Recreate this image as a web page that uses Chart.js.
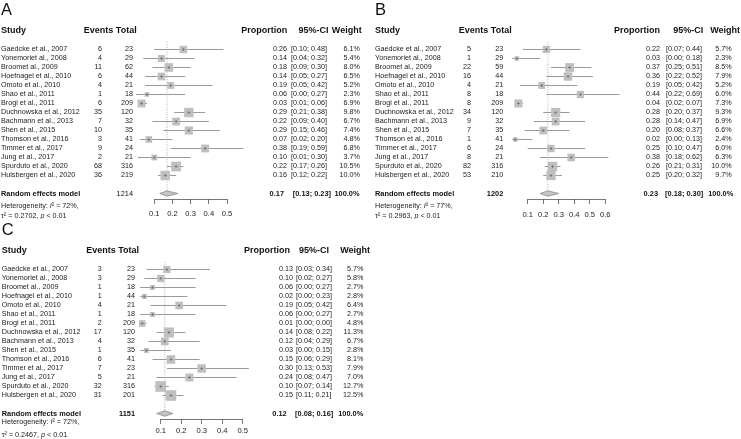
<!DOCTYPE html>
<html>
<head>
<meta charset="utf-8">
<script src="https://cdn.jsdelivr.net/npm/chart.js@4.4.1/dist/chart.umd.min.js"></script>
<style>
  html, body { margin: 0; padding: 0; background: #fff; }
  canvas { position: absolute; }
</style>
</head>
<body>
<canvas id="panelA" width="370" height="219" style="left:0;top:0"></canvas>
<canvas id="panelB" width="371" height="219" style="left:370px;top:0"></canvas>
<canvas id="panelC" width="370" height="219" style="left:0;top:220px"></canvas>
<script>
// studies (same order in all three panels)
const studies = [
  'Gaedcke et al., 2007', 'Yonemoriet al., 2008', 'Broomet al., 2009', 'Hoefnagel et al., 2010',
  'Omoto et al., 2010', 'Shao et al., 2011', 'Brogi et al., 2011', 'Duchnowska et al., 2012',
  'Bachmann et al., 2013', 'Shen et al., 2015', 'Thomson et al., 2016', 'Timmer et al., 2017',
  'Jung et al., 2017', 'Spurduto et al., 2020', 'Hulsbergen et al., 2020'
];

// panel A
const eventsA = [6, 4, 11, 6, 4, 1, 6, 35, 7, 10, 3, 9, 2, 68, 36];
const totalA  = [23, 29, 62, 44, 21, 18, 209, 120, 32, 35, 41, 24, 21, 316, 219];
const propA   = [0.26, 0.14, 0.18, 0.14, 0.19, 0.06, 0.03, 0.29, 0.22, 0.29, 0.07, 0.38, 0.10, 0.22, 0.16];
const lowerA  = [0.10, 0.04, 0.09, 0.05, 0.05, 0.00, 0.01, 0.21, 0.09, 0.15, 0.02, 0.19, 0.01, 0.17, 0.12];
const upperA  = [0.48, 0.32, 0.30, 0.27, 0.42, 0.27, 0.06, 0.38, 0.40, 0.46, 0.20, 0.59, 0.30, 0.26, 0.22];
const weightA = [6.1, 5.4, 8.0, 6.5, 5.2, 2.3, 6.9, 9.8, 6.7, 7.4, 4.8, 6.8, 3.7, 10.5, 10.0];
const pooledA = [0.17, 0.13, 0.23];
const sumTotalA = 1214;
const hetA = ['72%', '0.2702', '< 0.01'];
const ticksA = [0.1, 0.2, 0.3, 0.4, 0.5];

// panel B
const eventsB = [5, 1, 22, 16, 4, 8, 8, 34, 9, 7, 1, 6, 8, 82, 53];
const totalB  = [23, 29, 59, 44, 21, 18, 209, 120, 32, 35, 41, 24, 21, 316, 210];
const propB   = [0.22, 0.03, 0.37, 0.36, 0.19, 0.44, 0.04, 0.28, 0.28, 0.20, 0.02, 0.25, 0.38, 0.26, 0.25];
const lowerB  = [0.07, 0.00, 0.25, 0.22, 0.05, 0.22, 0.02, 0.20, 0.14, 0.08, 0.00, 0.10, 0.18, 0.21, 0.20];
const upperB  = [0.44, 0.18, 0.51, 0.52, 0.42, 0.69, 0.07, 0.37, 0.47, 0.37, 0.13, 0.47, 0.62, 0.31, 0.32];
const weightB = [5.7, 2.3, 8.5, 7.9, 5.2, 6.0, 7.3, 9.3, 6.9, 6.6, 2.4, 6.0, 6.3, 10.0, 9.7];
const pooledB = [0.23, 0.18, 0.30];
const sumTotalB = 1202;
const hetB = ['77%', '0.2963', '< 0.01'];
const ticksB = [0.1, 0.2, 0.3, 0.4, 0.5, 0.6];

// panel C
const eventsC = [3, 3, 1, 1, 4, 1, 2, 17, 4, 1, 6, 7, 5, 32, 31];
const totalC  = [23, 29, 18, 44, 21, 18, 209, 120, 32, 35, 41, 23, 21, 316, 201];
const propC   = [0.13, 0.10, 0.06, 0.02, 0.19, 0.06, 0.01, 0.14, 0.12, 0.03, 0.15, 0.30, 0.24, 0.10, 0.15];
const lowerC  = [0.03, 0.02, 0.00, 0.00, 0.05, 0.00, 0.00, 0.08, 0.04, 0.00, 0.06, 0.13, 0.08, 0.07, 0.11];
const upperC  = [0.34, 0.27, 0.27, 0.23, 0.42, 0.27, 0.03, 0.22, 0.29, 0.15, 0.29, 0.53, 0.47, 0.14, 0.21];
const ciTextC = {6: '[0.00; 0.00]'}; // printed CI differs from the drawn line
const weightC = [5.7, 5.8, 2.7, 2.8, 6.4, 2.7, 4.8, 11.3, 6.7, 2.8, 8.1, 7.9, 7.0, 12.7, 12.5];
const pooledC = [0.12, 0.08, 0.16];
const sumTotalC = 1151;
const hetC = ['72%', '0.2467', '< 0.01'];
const ticksC = [0.1, 0.2, 0.3, 0.4, 0.5];

const FONT = '"Liberation Sans", Arial, Helvetica, sans-serif';
const RE_ROW = 16;

const forestText = {
  id: 'forestText',
  afterDraw(chart, args, o) {
    const ctx = chart.ctx;
    const xs = chart.scales.x, ys = chart.scales.y;
    const d = o.d, L = o.L;
    ctx.save();

    // axis line only spans the labelled ticks
    const ab = Math.round(chart.chartArea.bottom) + 0.5;
    ctx.strokeStyle = '#555';
    ctx.lineWidth = 0.8;
    ctx.beginPath();
    ctx.moveTo(xs.getPixelForValue(d.ticks[0]), ab);
    ctx.lineTo(xs.getPixelForValue(d.ticks[d.ticks.length - 1]), ab);
    ctx.stroke();

    ctx.textBaseline = 'middle';

    // panel letter
    ctx.fillStyle = '#111';
    ctx.font = '16.5px ' + FONT;
    ctx.textAlign = 'left';
    ctx.fillText(L.letter, L.name, 10);

    // headers
    const hy = 31;
    ctx.font = 'bold 9px ' + FONT;
    ctx.fillText('Study', L.name, hy);
    ctx.textAlign = 'right';
    ctx.fillText('Events Total', L.totHead, hy);
    ctx.fillText('Proportion', L.propHead, hy);
    ctx.fillText('Weight', L.wtHead, hy);
    ctx.textAlign = 'center';
    ctx.fillText('95%-CI', L.ciHead, hy);

    // study rows
    ctx.font = '7.2px ' + FONT;
    ctx.fillStyle = '#222';
    studies.forEach((s, i) => {
      const y = ys.getPixelForValue(i);
      ctx.textAlign = 'left';
      ctx.fillText(s, L.name, y);
      ctx.textAlign = 'right';
      ctx.fillText(String(d.events[i]), L.ev, y);
      ctx.fillText(String(d.total[i]), L.tot, y);
      ctx.fillText(d.prop[i].toFixed(2), L.prop, y);
      ctx.fillText(d.weight[i].toFixed(1) + '%', L.wt, y);
      ctx.textAlign = 'left';
      const ci = (d.ciText && d.ciText[i]) || '[' + d.lower[i].toFixed(2) + '; ' + d.upper[i].toFixed(2) + ']';
      ctx.fillText(ci, L.ci, y);
    });

    // random effects row
    const ry = ys.getPixelForValue(RE_ROW);
    ctx.fillStyle = '#111';
    ctx.font = 'bold 7.4px ' + FONT;
    ctx.textAlign = 'left';
    ctx.fillText('Random effects model', L.name, ry);
    ctx.textAlign = 'right';
    ctx.font = (L.totBold ? 'bold ' : '') + '7.4px ' + FONT;
    ctx.fillText(String(d.sum), L.tot, ry);
    ctx.font = 'bold 7.4px ' + FONT;
    ctx.fillText(d.pooled[0].toFixed(2), L.propRE, ry);
    ctx.fillText('[' + d.pooled[1].toFixed(2) + '; ' + d.pooled[2].toFixed(2) + ']', L.ciRE, ry);
    ctx.fillText('100.0%', L.wtRE, ry);

    // heterogeneity
    ctx.fillStyle = '#222';
    ctx.textAlign = 'left';
    const seg = (parts, x, y) => {
      parts.forEach(([t, it]) => {
        ctx.font = (it ? 'italic ' : '') + '7.2px ' + FONT;
        ctx.fillText(t, x, y);
        x += ctx.measureText(t).width;
      });
    };
    seg([['Heterogeneity: ', 0], ['I', 1], ['\u00b2 = ' + d.het[0] + ',', 0]], L.name, L.hetY);
    seg([['\u03c4\u00b2 = ' + d.het[1] + ', ', 0], ['p', 1], [' ' + d.het[2], 0]], L.name, L.tauY);
    ctx.restore();
  }
};

function makePanel(id, d, L) {
  const pts = d.prop.map((p, i) => ({x: p, y: i}));
  const [est, lo, hi] = d.pooled;
  const diamond = [
    {x: lo, y: RE_ROW}, {x: est, y: RE_ROW - 0.3}, {x: hi, y: RE_ROW},
    {x: est, y: RE_ROW + 0.3}, {x: lo, y: RE_ROW}
  ];
  const ciSets = d.lower.map((l, i) => ({
    data: [{x: l, y: i}, {x: d.upper[i], y: i}], pointRadius: 0, tension: 0,
    borderColor: '#999999', borderWidth: 1, clip: false
  }));

  return new Chart(document.getElementById(id), {
    type: 'line',
    data: {
      datasets: [
        { // centre marks
          data: pts, showLine: false, pointStyle: 'cross', pointRadius: 1.4,
          borderColor: '#6e6e6e', borderWidth: 0.8, clip: false
        },
        { // weighted squares
          data: pts, showLine: false, pointStyle: 'rect',
          pointRadius: c => 3.0 * Math.sqrt(d.weight[c.dataIndex]) / Math.SQRT2,
          backgroundColor: '#bfbfbf', borderWidth: 0, clip: false
        },
        { // pooled diamond
          data: diamond, fill: 'shape', tension: 0, pointRadius: 0,
          backgroundColor: '#c4c4c4', borderColor: '#8c8c8c', borderWidth: 0.8, clip: false
        },
        ...ciSets,
        { // pooled estimate reference
          data: [{x: est, y: -0.86}, {x: est, y: RE_ROW - 0.35}], pointRadius: 0,
          borderColor: '#9a9a9a', borderWidth: 0.8, borderDash: [1, 1.5], clip: false
        }
      ]
    },
    options: {
      responsive: false,
      animation: false,
      events: [],
      layout: { padding: { left: L.left, right: L.right, top: 41.75, bottom: 0 } },
      plugins: {
        legend: { display: false },
        tooltip: { enabled: false },
        forestText: { d, L }
      },
      scales: {
        x: {
          type: 'linear',
          min: 0,
          max: L.xMax,
          afterBuildTicks: s => { s.ticks = d.ticks.map(v => ({value: v})); },
          afterFit: s => { s.height = 20; },
          grid: { drawOnChartArea: false, drawTicks: true, tickLength: 5, color: '#555', lineWidth: 0.8 },
          border: { display: false },
          ticks: {
            callback: v => Number(v).toFixed(1),
            font: { family: FONT, size: 7.6 }, color: '#222',
            padding: L.tickPad, maxRotation: 0, autoSkip: false
          }
        },
        // 9px per row, rows land on half pixels so the CI lines stay crisp
        y: { type: 'linear', display: false, reverse: true, min: -0.8611, max: 16.6111 }
      }
    },
    plugins: [forestText]
  });
}

makePanel('panelA',
  { events: eventsA, total: totalA, prop: propA, lower: lowerA, upper: upperA, weight: weightA,
    pooled: pooledA, sum: sumTotalA, het: hetA, ticks: ticksA },
  { letter: 'A', left: 136.1, right: 124.8, xMax: 0.6, name: 1, ev: 102, tot: 133, totHead: 136.7,
    prop: 287, propHead: 287.3, ci: 291, ciHead: 313.5, wt: 360, wtHead: 361.7,
    propRE: 284, ciRE: 331, wtRE: 359.5, hetY: 206, tauY: 215.7, tickPad: 5, totBold: false });

makePanel('panelB',
  { events: eventsB, total: totalB, prop: propB, lower: lowerB, upper: upperB, weight: weightB,
    pooled: pooledB, sum: sumTotalB, het: hetB, ticks: ticksB },
  { letter: 'B', left: 142.2, right: 120.2, xMax: 0.7, name: 5, ev: 101, tot: 133.3, totHead: 141.7,
    prop: 290, propHead: 290, ci: 296, ciHead: 318.3, wt: 361.7, wtHead: 370,
    propRE: 288, ciRE: 333.3, wtRE: 363.3, hetY: 206, tauY: 215.7, tickPad: 6, totBold: true });

makePanel('panelC',
  { events: eventsC, total: totalC, prop: propC, lower: lowerC, upper: upperC, weight: weightC,
    ciText: ciTextC, pooled: pooledC, sum: sumTotalC, het: hetC, ticks: ticksC },
  { letter: 'C', left: 140.2, right: 106.8, xMax: 0.6, name: 1.7, ev: 101.7, tot: 135, totHead: 139,
    prop: 293, propHead: 290, ci: 296, ciHead: 314, wt: 363.3, wtHead: 370,
    propRE: 286.7, ciRE: 333.3, wtRE: 363.3, hetY: 202, tauY: 215.3, tickPad: 2, totBold: true });
</script>
</body>
</html>
